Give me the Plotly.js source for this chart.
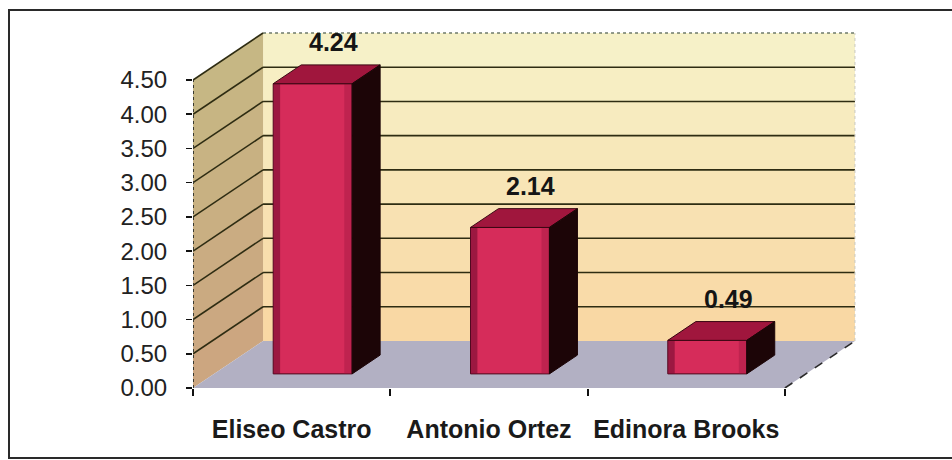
<!DOCTYPE html>
<html>
<head>
<meta charset="utf-8">
<script src="https://cdn.plot.ly/plotly-3.0.1.min.js"></script>
<style>html,body{margin:0;padding:0;background:#fff}#chart{width:952px;height:460px}</style>
</head>
<body>
<div id="chart"></div>
<script>
// ---- data ----
const categories = ['Eliseo Castro', 'Antonio Ortez', 'Edinora Brooks'];
const values = [4.24, 2.14, 0.49];
const yTickValues = [0, 0.5, 1, 1.5, 2, 2.5, 3, 3.5, 4, 4.5];
const yTickLabels = ['0.00', '0.50', '1.00', '1.50', '2.00', '2.50', '3.00', '3.50', '4.00', '4.50'];
const valueLabels = ['4.24', '2.14', '0.49'];

// ---- 3D projection settings (style) ----
const DX = 0.355;   // depth offset in x units
const DY = 0.687;   // depth offset in y units
const BAR_W = 0.4;
const D1 = 0.3, D2 = 0.7; // bar depth range (fraction)
const yMax = yTickValues[yTickValues.length - 1];
const xL = -0.5, xR = categories.length - 0.5;

function hexToRgb(h){h=h.replace('#','');return [parseInt(h.substr(0,2),16),parseInt(h.substr(2,2),16),parseInt(h.substr(4,2),16)];}
function mix(a,b,t){const A=hexToRgb(a),B=hexToRgb(b);return 'rgb('+A.map((v,i)=>Math.round(v+(B[i]-v)*t)).join(',')+')';}

const shapes = [];
const nb = yTickValues.length - 1;
// back wall bands
for (let k = 0; k < nb; k++) {
  const y0 = yTickValues[k], y1 = yTickValues[k+1];
  shapes.push({type:'rect', xref:'x', yref:'y', layer:'below',
    x0:xL+DX, x1:xR+DX, y0:y0+DY, y1:y1+DY,
    fillcolor: mix('#F9D6A2', '#F6F3CA', (k+0.5)/nb), line:{width:0}});
}
// left wall bands
for (let k = 0; k < nb; k++) {
  const y0 = yTickValues[k], y1 = yTickValues[k+1];
  shapes.push({type:'path', xref:'x', yref:'y', layer:'below',
    path:`M${xL},${y0} L${xL},${y1} L${xL+DX},${y1+DY} L${xL+DX},${y0+DY} Z`,
    fillcolor: mix('#CCA580', '#C6B884', (k+0.5)/nb), line:{width:0}});
}
// floor
shapes.push({type:'path', xref:'x', yref:'y', layer:'below',
  path:`M${xL},0 L${xR},0 L${xR+DX},${DY} L${xL+DX},${DY} Z`,
  fillcolor:'#B2B0C3', line:{width:0}});
// gridlines
yTickValues.forEach((v, k) => {
  if (k === 0) return;
  const col = '#2E2C12';
  shapes.push({type:'line', xref:'x', yref:'y', layer:'below',
    x0:xL+DX, x1:xR+DX, y0:v+DY, y1:v+DY, line:{color: k===nb ? '#6E7A6A' : col, width: 1.6, dash: k===nb ? 'dot' : 'solid'}});
  shapes.push({type:'line', xref:'x', yref:'y', layer:'below',
    x0:xL, x1:xL+DX, y0:v, y1:v+DY, line:{color:col, width:1.6}});
});
// back wall right edge
shapes.push({type:'line', xref:'x', yref:'y', layer:'below',
  x0:xR+DX, x1:xR+DX, y0:DY, y1:yMax+DY, line:{color:'#C8C8C0', width:1, dash:'dot'}});
// floor right edge (dashed)
shapes.push({type:'line', xref:'x', yref:'y', layer:'below',
  x0:xR, x1:xR+DX, y0:0, y1:DY, line:{color:'#2A2A2A', width:1.6, dash:'dash'}});
// y axis line
shapes.push({type:'line', xref:'x', yref:'y', layer:'below',
  x0:xL, x1:xL, y0:0, y1:yMax, line:{color:'#3A3A30', width:2, dash:'dot'}});

// bar shading, top & side faces
values.forEach((v, i) => {
  const a = i - BAR_W/2, b = i + BAR_W/2;
  const fa = a + D1*DX, fb = b + D1*DX;
  // darker left edge strip of the front face
  shapes.push({type:'rect', xref:'x', yref:'y', layer:'above',
    x0:fa, x1:fa + 0.035, y0:D1*DY, y1:v + D1*DY,
    fillcolor:'rgba(110,10,45,0.55)', line:{width:0}});
  shapes.push({type:'rect', xref:'x', yref:'y', layer:'above',
    x0:fb - 0.04, x1:fb, y0:D1*DY, y1:v + D1*DY,
    fillcolor:'rgba(150,20,60,0.35)', line:{width:0}});
  shapes.push({type:'path', xref:'x', yref:'y', layer:'above',
    path:`M${a+D1*DX},${v+D1*DY} L${b+D1*DX},${v+D1*DY} L${b+D2*DX},${v+D2*DY} L${a+D2*DX},${v+D2*DY} Z`,
    fillcolor:'#A0163D', line:{color:'#3A0612', width:1}});
  shapes.push({type:'path', xref:'x', yref:'y', layer:'above',
    path:`M${b+D1*DX},${D1*DY} L${b+D2*DX},${D2*DY} L${b+D2*DX},${v+D2*DY} L${b+D1*DX},${v+D1*DY} Z`,
    fillcolor:'#1C0507', line:{color:'#1C0507', width:1}});
});

// outer frame (right edge lies outside the picture)
shapes.push({type:'rect', xref:'paper', yref:'paper', layer:'above',
  x0:(9-193)/680, x1:(965-193)/680, y0:(388-458)/378, y1:(388-10)/378,
  line:{color:'#2A2A2A', width:2}, fillcolor:'rgba(0,0,0,0)'});

const annotations = values.map((v, i) => ({
  x: i + 0.6*DX, y: v + D2*DY, xref:'x', yref:'y', yanchor:'bottom', yshift: 7,
  text: valueLabels[i], showarrow:false,
  font:{family:'Liberation Sans, Arial, sans-serif', size:25, color:'#151515', weight:'bold'}
}));

const trace = {
  type:'bar',
  x: values.map((v, i) => i + D1*DX),
  y: values,
  base: values.map(() => D1*DY),
  width: BAR_W,
  marker:{color:'#D62C5A', line:{color:'#4A0A1C', width:1}},
  hoverinfo:'skip'
};

const layout = {
  width:952, height:460,
  margin:{l:193, r:79, t:10, b:72},
  paper_bgcolor:'#ffffff', plot_bgcolor:'rgba(0,0,0,0)',
  showlegend:false,
  xaxis:{range:[-0.5, -0.5 + 680/197.3], tickmode:'array', tickvals:[0,1,2], ticktext:categories,
    ticks:'', showgrid:false, zeroline:false, showline:false, ticklabelstandoff:24,
    tickfont:{family:'Liberation Sans, Arial, sans-serif', size:25, color:'#1a1a1a', weight:'bold'},
    minor:{tickmode:'array', tickvals:[-0.5,0.5,1.5,2.5], ticks:'outside', ticklen:7, tickwidth:2, tickcolor:'#111', showgrid:false}},
  yaxis:{range:[0, 378/68.44], tickmode:'array', tickvals:yTickValues, ticktext:yTickLabels,
    ticks:'outside', ticklen:6, tickwidth:1.5, tickcolor:'#111', showgrid:false, zeroline:false, showline:false,
    ticklabelstandoff:14,
    tickfont:{family:'Liberation Sans, Arial, sans-serif', size:24, color:'#222'}},
  shapes: shapes,
  annotations: annotations
};

Plotly.newPlot('chart', [trace], layout, {staticPlot:true, displayModeBar:false});
</script>
</body>
</html>
